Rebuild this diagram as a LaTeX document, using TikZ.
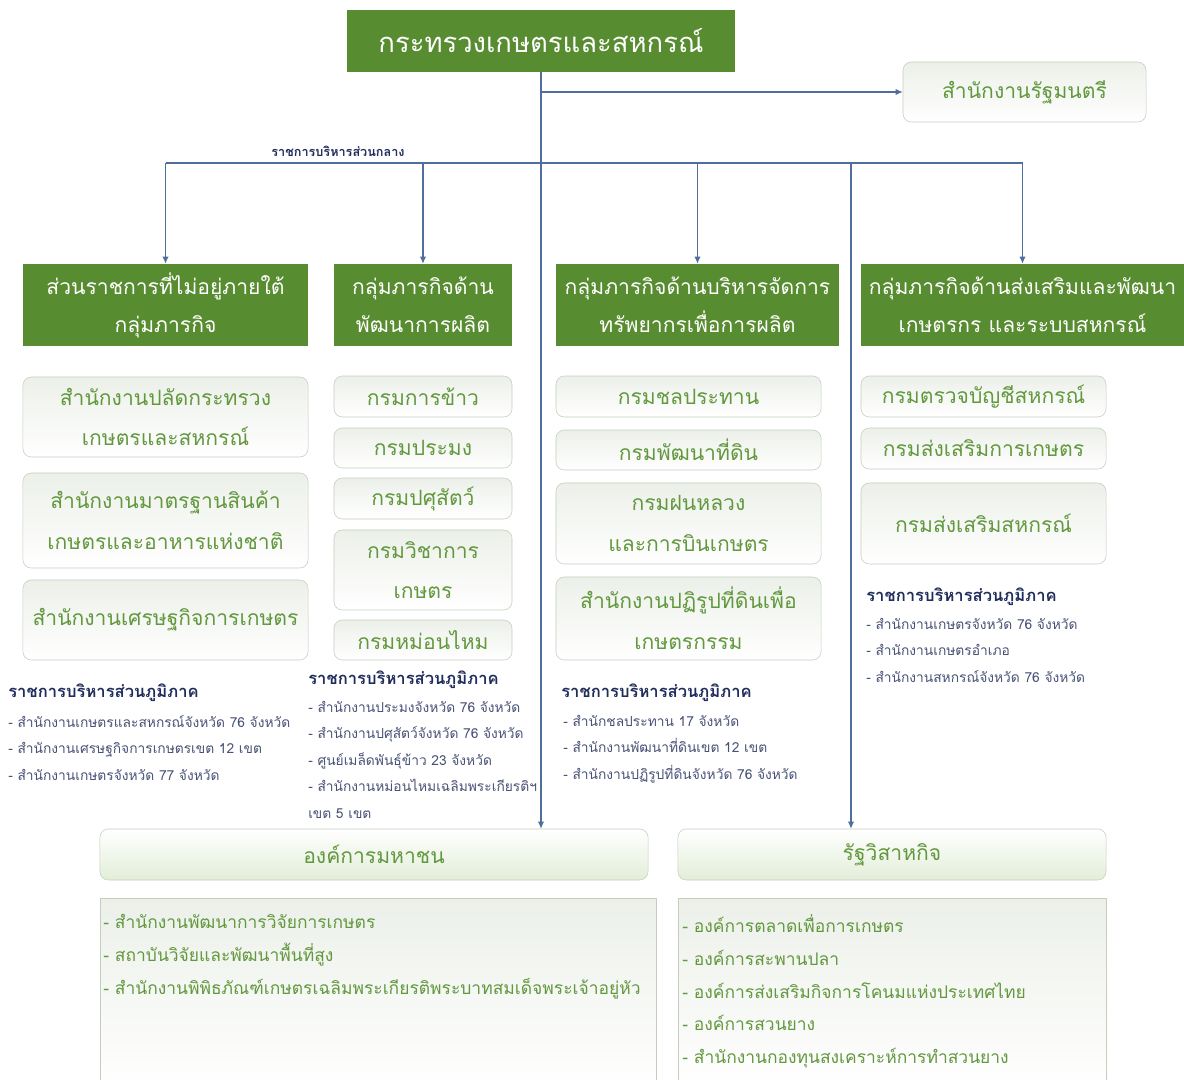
\documentclass[tikz,border=0pt]{standalone}
\usepackage{fontspec}
\setmainfont[Script=Thai]{Loma}
\usetikzlibrary{arrows.meta}

\definecolor{moagreen}{RGB}{88,140,48}
\definecolor{txtgreen}{RGB}{98,152,62}
\definecolor{linecol}{RGB}{79,110,155}
\definecolor{boxline}{RGB}{196,206,190}
\definecolor{boxtop}{RGB}{236,240,233}
\definecolor{boxlow}{RGB}{226,238,216}
\definecolor{navy}{RGB}{32,45,92}
\definecolor{navygray}{RGB}{72,82,118}

\tikzstyle{topS}=[fill=moagreen,text=white,inner sep=0pt,font=\fontsize{19.5}{24}\selectfont]
\tikzstyle{hS}=[fill=moagreen,text=white,inner sep=0pt,align=center,minimum height=2.05cm,font=\fontsize{15}{27}\selectfont]
\tikzstyle{sS}=[rounded corners=6pt,draw=boxline,top color=boxtop,bottom color=white,text=txtgreen,inner sep=0pt,align=center,font=\fontsize{15}{29}\selectfont]
\tikzstyle{bS}=[rounded corners=6pt,draw=boxline,top color=white,bottom color=boxlow,text=txtgreen,inner sep=0pt,font=\fontsize{15}{20}\selectfont]
\tikzstyle{rH}=[text=navy,anchor=west,inner sep=0pt,font=\bfseries\fontsize{11.8}{14}\selectfont]
\tikzstyle{rL}=[text=navygray,anchor=north west,align=left,inner sep=0pt,font=\fontsize{9.8}{18.8}\selectfont]
\tikzstyle{pL}=[text=txtgreen,anchor=north west,align=left,inner sep=0pt,font=\fontsize{12.4}{23.4}\selectfont]
\tikzstyle{lS}=[draw=linecol,line width=0.8pt]
\tikzstyle{aS}=[draw=linecol,line width=0.8pt,-{Latex[length=5pt,width=4.5pt]}]

\begin{document}
\begin{tikzpicture}[x=0.025cm,y=-0.025cm]
\useasboundingbox (0,0) rectangle (1184,1079);
% top level
\draw (541,41) node[topS,minimum width=9.7cm,minimum height=1.55cm] (moac) {กระทรวงเกษตรและสหกรณ์};
\draw (1024.5,92) node[sS,minimum width=6.075cm,minimum height=1.5cm] (mino) {สำนักงานรัฐมนตรี};
% groups
\draw (165.5,305) node[hS,minimum width=7.125cm] (h1) {ส่วนราชการที่ไม่อยู่ภายใต้\\กลุ่มภารกิจ};
\draw (423,305) node[hS,minimum width=4.45cm] (h2) {กลุ่มภารกิจด้าน\\พัฒนาการผลิต};
\draw (697.5,305) node[hS,minimum width=7.075cm] (h3) {กลุ่มภารกิจด้านบริหารจัดการ\\ทรัพยากรเพื่อการผลิต};
\draw (1022.5,305) node[hS,minimum width=8.075cm] (h4) {กลุ่มภารกิจด้านส่งเสริมและพัฒนา\\เกษตรกร และระบบสหกรณ์};
% column 1
\draw (165.5,417) node[sS,minimum width=7.125cm,minimum height=2cm] (c11) {สำนักงานปลัดกระทรวง\\เกษตรและสหกรณ์};
\draw (165.5,520.5) node[sS,minimum width=7.125cm,minimum height=2.375cm] (c12) {สำนักงานมาตรฐานสินค้า\\เกษตรและอาหารแห่งชาติ};
\draw (165.5,620) node[sS,minimum width=7.125cm,minimum height=2cm] (c13) {สำนักงานเศรษฐกิจการเกษตร};
% column 2
\draw (423,396.5) node[sS,minimum width=4.45cm,minimum height=1.025cm] (c21) {กรมการข้าว};
\draw (423,448) node[sS,minimum width=4.45cm,minimum height=1cm] (c22) {กรมประมง};
\draw (423,498.5) node[sS,minimum width=4.45cm,minimum height=1.025cm] (c23) {กรมปศุสัตว์};
\draw (423,570) node[sS,minimum width=4.45cm,minimum height=2cm] (c24) {กรมวิชาการ\\เกษตร};
\draw (423,640) node[sS,minimum width=4.45cm,minimum height=1cm] (c25) {กรมหม่อนไหม};
% column 3
\draw (688.5,396.5) node[sS,minimum width=6.625cm,minimum height=1.025cm] (c31) {กรมชลประทาน};
\draw (688.5,450) node[sS,minimum width=6.625cm,minimum height=1cm] (c32) {กรมพัฒนาที่ดิน};
\draw (688.5,523.5) node[sS,minimum width=6.625cm,minimum height=2.025cm] (c33) {กรมฝนหลวง\\และการบินเกษตร};
\draw (688.5,618.5) node[sS,minimum width=6.625cm,minimum height=2.075cm] (c34) {สำนักงานปฏิรูปที่ดินเพื่อ\\เกษตรกรรม};
% column 4
\draw (983.5,396.5) node[sS,minimum width=6.125cm,minimum height=1.025cm] (c41) {กรมตรวจบัญชีสหกรณ์};
\draw (983.5,448.5) node[sS,minimum width=6.125cm,minimum height=1.025cm] (c42) {กรมส่งเสริมการเกษตร};
\draw (983.5,523.5) node[sS,minimum width=6.125cm,minimum height=2.025cm] (c43) {กรมส่งเสริมสหกรณ์};
% regional
\draw (8,693) node[rH] (r1h) {ราชการบริหารส่วนภูมิภาค};
\draw (8,715) node[rL] (r1) {- สำนักงานเกษตรและสหกรณ์จังหวัด 76 จังหวัด\\- สำนักงานเศรษฐกิจการเกษตรเขต 12 เขต\\- สำนักงานเกษตรจังหวัด 77 จังหวัด};
\draw (308,680) node[rH] (r2h) {ราชการบริหารส่วนภูมิภาค};
\draw (308,701) node[rL] (r2) {- สำนักงานประมงจังหวัด 76 จังหวัด\\- สำนักงานปศุสัตว์จังหวัด 76 จังหวัด\\- ศูนย์เมล็ดพันธุ์ข้าว 23 จังหวัด\\- สำนักงานหม่อนไหมเฉลิมพระเกียรติฯ\\เขต 5 เขต};
\draw (561,693) node[rH] (r3h) {ราชการบริหารส่วนภูมิภาค};
\draw (563,715) node[rL] (r3) {- สำนักชลประทาน 17 จังหวัด\\- สำนักงานพัฒนาที่ดินเขต 12 เขต\\- สำนักงานปฏิรูปที่ดินจังหวัด 76 จังหวัด};
\draw (866,597) node[rH] (r4h) {ราชการบริหารส่วนภูมิภาค};
\draw (866,618) node[rL] (r4) {- สำนักงานเกษตรจังหวัด 76 จังหวัด\\- สำนักงานเกษตรอำเภอ\\- สำนักงานสหกรณ์จังหวัด 76 จังหวัด};
% bottom
\draw (374,854.5) node[bS,minimum width=13.7cm,minimum height=1.275cm] (pub) {องค์การมหาชน};
\draw (892,854.5) node[bS,minimum width=10.7cm,minimum height=1.275cm] (soe) {รัฐวิสาหกิจ};
\draw[draw=boxline,top color=boxtop,bottom color=white] (100,898) rectangle (656,1090);
\draw[draw=boxline,top color=boxtop,bottom color=white] (678,898) rectangle (1106,1090);
\draw (103,914) node[pL] (publ) {- สำนักงานพัฒนาการวิจัยการเกษตร\\- สถาบันวิจัยและพัฒนาพื้นที่สูง\\- สำนักงานพิพิธภัณฑ์เกษตรเฉลิมพระเกียรติพระบาทสมเด็จพระเจ้าอยู่หัว};
\draw (682,914) node[pL] (soel) {- องค์การตลาดเพื่อการเกษตร\\- องค์การสะพานปลา\\- องค์การส่งเสริมกิจการโคนมแห่งประเทศไทย\\- องค์การสวนยาง\\- สำนักงานกองทุนสงเคราะห์การทำสวนยาง};
% connectors
\coordinate (barL) at (165.5,163);
\coordinate (barR) at (1022.5,163);
\coordinate (barS) at (851,163);
\draw (338,151) node[text=navy,inner sep=0pt,font=\bfseries\fontsize{9}{11}\selectfont] (cen) {ราชการบริหารส่วนกลาง};
\draw[aS] (moac.south) -- (moac.south |- pub.north);
\draw[aS] (moac.south |- mino.west) -- (mino.west);
\draw[lS] (barL) -- (barR);
\draw[aS] (barL) -- (h1.north);
\draw[aS] (h2.north |- barL) -- (h2.north);
\draw[aS] (h3.north |- barL) -- (h3.north);
\draw[aS] (barR) -- (h4.north);
\draw[aS] (barS) -- (barS |- soe.north);
\end{tikzpicture}
\end{document}
